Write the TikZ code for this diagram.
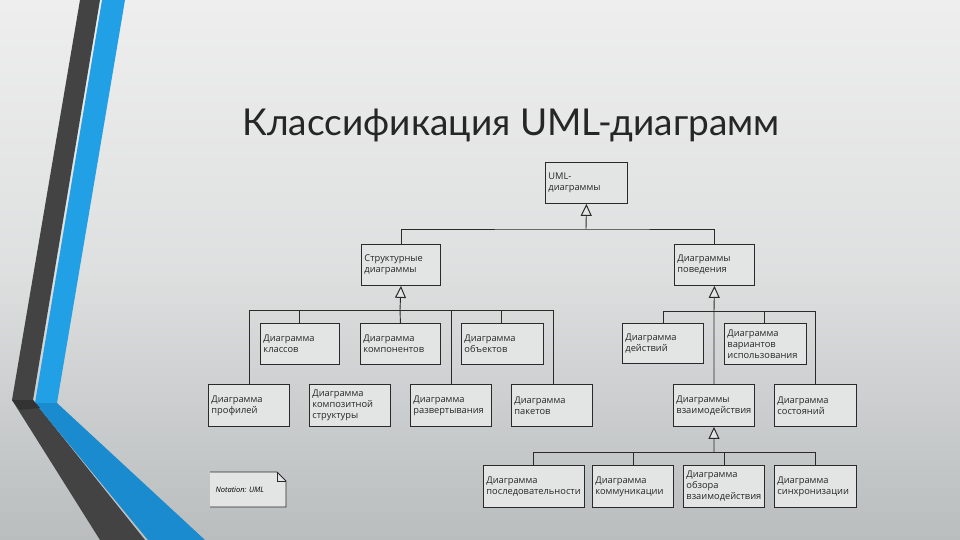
\documentclass[tikz,border=0pt]{standalone}
\usepackage{fontspec}
\setmainfont{Open Sans}
\newfontfamily\titlefont{Lato}
\usetikzlibrary{arrows.meta}
\definecolor{bgA}{HTML}{EEEEEE}
\definecolor{bgB}{HTML}{B9BDBE}
\definecolor{bandD}{HTML}{434343}
\definecolor{bandB}{HTML}{21A0E6}
\definecolor{bandB2}{HTML}{1B8BD0}
\definecolor{boxfill}{HTML}{E3E5E5}
\definecolor{boxline}{HTML}{2A2A2A}
\tikzset{
  box/.style={draw=boxline, line width=0.9pt, fill=boxfill, anchor=north west,
    inner xsep=3pt, inner ysep=2pt, align=left, font=\fontsize{9.3}{11}\selectfont,
    text=black!85},
  conn/.style={draw=boxline, line width=0.9pt},
  gen/.style={conn, -{Triangle[fill=boxfill, length=12pt, width=11pt, line width=1pt]}},
}
\newcommand{\bx}[6]{% name, x1,y1,x2,y2,text
  \pgfmathsetmacro\ww{#4-#2}\pgfmathsetmacro\hh{#5-#3}
  \node[box, minimum width=\ww pt, minimum height=\hh pt, text width=\ww pt-6pt] (#1) at (#2,#3) {#6};}
\begin{document}
\begin{tikzpicture}[x=1pt,y=-1pt]
\useasboundingbox (0,0) rectangle (960,540);
\shade[shading angle=225, top color=bgA, bottom color=bgB, middle color=bgA!70!bgB] (0,0) rectangle (960,540);
% side bands
\fill[bandD] (80,0) -- (100,0) -- (33,400) -- (145,540) -- (100,540) -- (12,400) -- cycle;
\fill[bandB] (102,0) -- (125,0) -- (57,403) -- (35,403) -- cycle;
\fill[bandB2] (35,403) -- (57,403) -- (205,540) -- (148,540) -- cycle;
\fill[black!80] (12,400) -- (33,400) -- (40,408) -- (20,410) -- cycle;
% title
\node[font=\titlefont\fontsize{37}{40}\selectfont, text=black!85] (title) at (511,125) {Классификация UML-диаграмм};
% boxes
\bx{uml}{545}{162}{627}{203}{UML-\\диаграммы}
\bx{str}{361}{244}{440}{285}{Структурные\\диаграммы}
\bx{beh}{674}{244}{754}{285}{Диаграммы\\поведения}
\bx{cls}{260}{323}{339}{364}{Диаграмма\\классов}
\bx{cmp}{360}{323}{440}{364}{Диаграмма\\компонентов}
\bx{obj}{461}{323}{543}{364}{Диаграмма\\объектов}
\bx{prf}{208}{384}{289}{426}{Диаграмма\\профилей}
\bx{cst}{309}{384}{390}{426}{Диаграмма\\композитной\\структуры}
\bx{dep}{410}{384}{491}{426}{Диаграмма\\развертывания}
\bx{pkg}{511}{384}{592}{426}{Диаграмма\\пакетов}
\bx{act}{622}{323}{703}{363}{Диаграмма\\действий}
\bx{use}{724}{323}{806}{364}{Диаграмма\\вариантов\\использования}
\bx{int}{673}{384}{754}{426}{Диаграммы\\взаимодействия}
\bx{sta}{774}{384}{856}{426}{Диаграмма\\состояний}
\bx{seq}{483}{465}{584}{507}{Диаграмма\\последовательности}
\bx{com}{592}{465}{673}{507}{Диаграмма\\коммуникации}
\bx{ovr}{683}{465}{764}{507}{Диаграмма\\обзора\\взаимодействия}
\bx{tim}{774}{465}{856}{507}{Диаграмма\\синхронизации}
% note
\draw[conn, fill=boxfill] (210,472) -- (277,472) -- (286,481) -- (286,507) -- (210,507);
\draw[conn] (277,472) -- (277,481) -- (286,481);
\node[font=\itshape\fontsize{7.5}{9}\selectfont, anchor=west] (note) at (212,490) {Notation: UML};
% top level
\coordinate (b0) at (586,229);
\draw[gen] (b0) -- (uml.south);
\draw[conn] (str.north) |- (b0) -| (beh.north);
% structural bus
\coordinate (b1) at (400,310);
\draw[conn] (prf.north -| 249,0) |- (b1);
\draw[conn] (b1) -| (pkg.north -| 553,0);
\draw[conn] (cls.north -| 299,0) -- (299,310);
\draw[conn] (cmp.north) -- (b1);
\draw[conn] (obj.north -| 501,0) -- (501,310);
\draw[conn] (dep.north -| 451,0) -- (451,310);
\draw[gen] (b1) -- (str.south);
% behaviour bus
\coordinate (b2) at (714,311);
\draw[conn] (act.north -| 663,0) |- (b2);
\draw[conn] (b2) -| (sta.north -| 815,0);
\draw[conn] (use.north -| 764,0) -- (764,311);
\draw[conn] (int.north) -- (b2);
\draw[gen] (b2) -- (beh.south);
% interaction bus
\coordinate (b3) at (714,452);
\draw[conn] (seq.north -| 533,0) |- (b3);
\draw[conn] (b3) -| (tim.north -| 815,0);
\draw[conn] (com.north -| 633,0) -- (633,452);
\draw[conn] (ovr.north -| 724,0) -- (724,452);
\draw[gen] (b3) -- (int.south);
\end{tikzpicture}
\end{document}
